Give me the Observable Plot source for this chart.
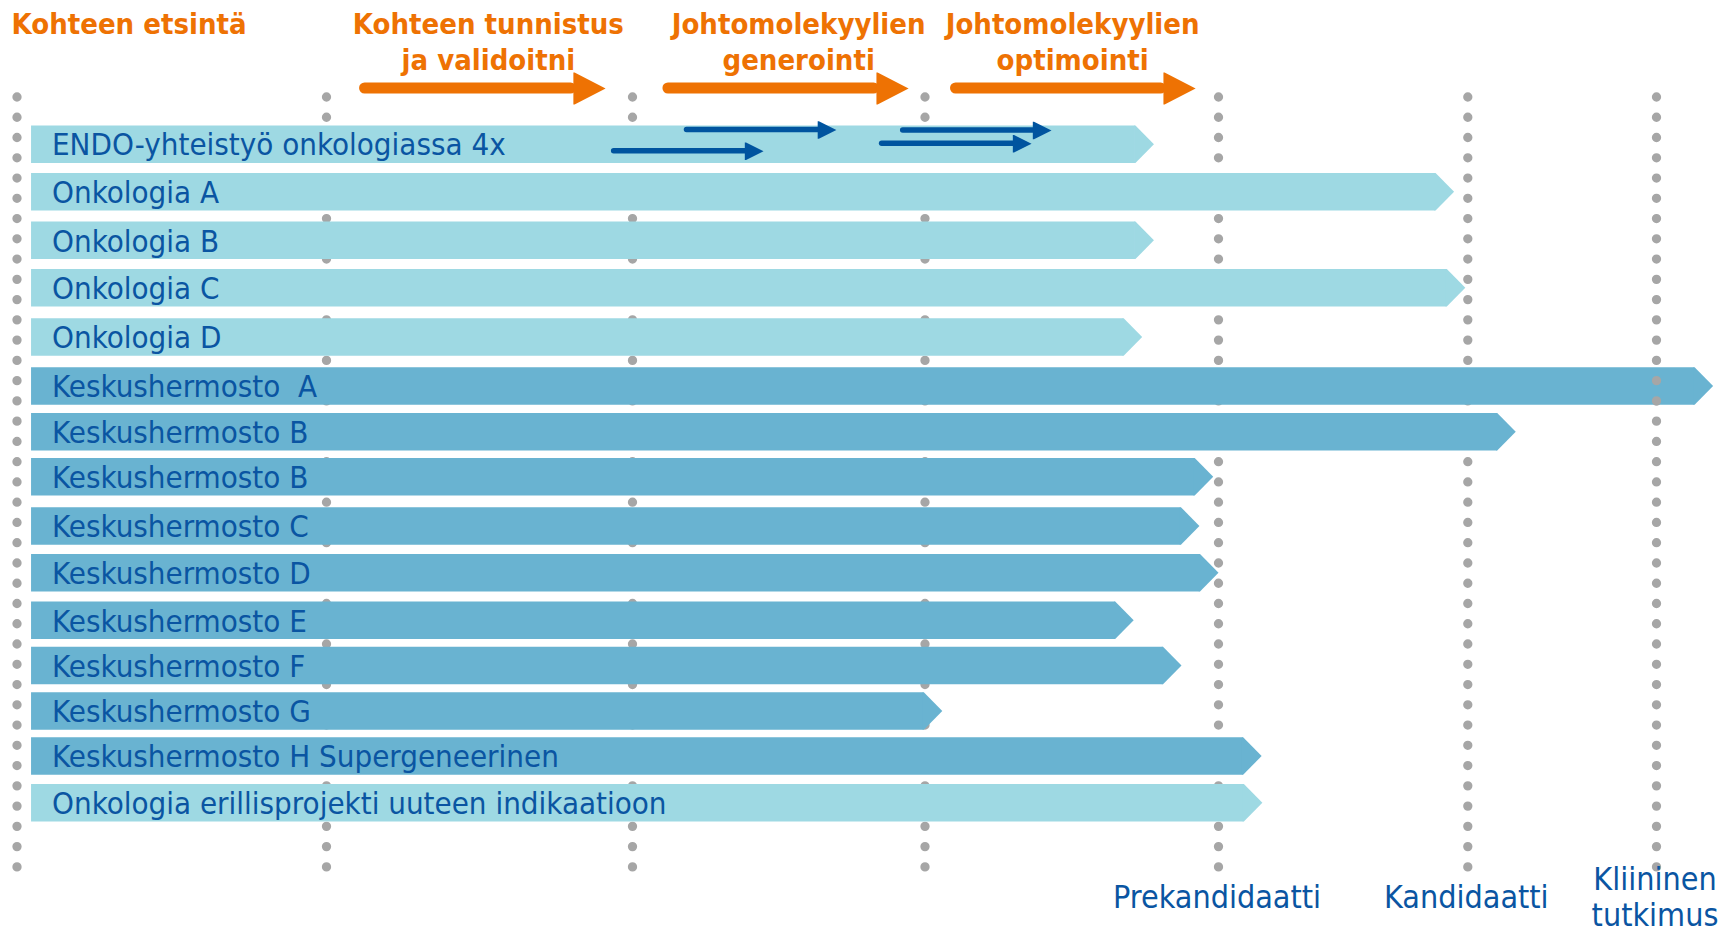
<!DOCTYPE html>
<html>
<head>
<meta charset="utf-8">
<script src="https://cdn.jsdelivr.net/npm/d3@7"></script>
<script src="https://cdn.jsdelivr.net/npm/@observablehq/plot@0.6"></script>
<style>
  html, body { margin: 0; padding: 0; background: #ffffff; overflow: hidden; }
  #chart svg text { white-space: pre; font-stretch: condensed; }
</style>
</head>
<body>
<div id="chart"></div>
<script>
// ---------------- data ----------------
const projects = [
  "ENDO-yhteistyö onkologiassa 4x",
  "Onkologia A",
  "Onkologia B",
  "Onkologia C",
  "Onkologia D",
  "Keskushermosto  A",
  "Keskushermosto B",
  "Keskushermosto B",
  "Keskushermosto C",
  "Keskushermosto D",
  "Keskushermosto E",
  "Keskushermosto F",
  "Keskushermosto G",
  "Keskushermosto H Supergeneerinen",
  "Onkologia erillisprojekti uuteen indikaatioon"
];
const areas = [
  "Onkologia", "Onkologia", "Onkologia", "Onkologia", "Onkologia",
  "Keskushermosto", "Keskushermosto", "Keskushermosto", "Keskushermosto", "Keskushermosto",
  "Keskushermosto", "Keskushermosto", "Keskushermosto", "Keskushermosto", "Onkologia"
];
// progress reached by each project, in stage units (0 = start, 4 = Prekandidaatti, 5 = Kandidaatti, 6 = Kliininen tutkimus)
const reach = [3.78, 4.945, 3.78, 4.99, 3.74, 6.30, 5.254, 3.982, 3.935, 4.0, 3.711, 3.874, 3.059, 4.173, 4.176];
const startStage = 0.047;

const stageBoundaries = [0, 1, 2, 3, 4, 5, 6];

const phases = [
  "Kohteen etsintä",
  "Kohteen tunnistus\nja validoitni",
  "Johtomolekyylien\ngenerointi",
  "Johtomolekyylien\noptimointi"
];
const phaseArrowFrom = [1.108, 2.104, 3.087];
const phaseArrowTo = [1.912, 2.944, 3.922];

const milestones = ["Prekandidaatti", "Kandidaatti", "Kliininen\ntutkimus"];
const milestoneStage = [4, 5, 6];

// small arrows inside the ENDO bar (four parallel collaborations)
const endoArrowFrom = [2.177, 1.931, 2.916, 2.844];
const endoArrowTo = [2.697, 2.448, 3.431, 3.363];

// ---------------- layout / style ----------------
const W = 1735, H = 933;
const TEXT_BLUE = "#0a55a2";
const ORANGE = "#ee7203";
const GREY = "#a6a6a6";
const ARROW_BLUE = "#00549f";
const FONT = "'DejaVu Sans Condensed','DejaVu Sans',sans-serif";

const rows = projects.map((label, i) => ({id: i, label, area: areas[i], from: startStage, to: reach[i]}));

// row centres on the slide (the rows are not perfectly evenly spaced)
const rowRange = [143.7, 191.3, 239.8, 287.2, 336.5, 385.5, 431.2, 476.2, 525.5, 572.2, 619.8, 665, 710.5, 755.5, 802.2];
const barThick = 37.6;

function tip(len, half) {
  return {
    draw(ctx) {
      ctx.moveTo(-len - 1.2, -half);
      ctx.lineTo(-len, -half);
      ctx.lineTo(0, 0);
      ctx.lineTo(-len, half);
      ctx.lineTo(-len - 1.2, half);
      ctx.closePath();
    }
  };
}

// arrow with a rounded shaft and a filled head, at a fixed pixel height
function arrowMarks(from, to, y, thick, headLen, headHalf, color) {
  const d = [{from, to}];
  return [
    Plot.barX(d, {
      x1: "from", x2: "to",
      insetTop: y - thick / 2, insetBottom: H - y - thick / 2,
      insetRight: headLen - 2, rx: thick / 2, fill: color
    }),
    Plot.dot(d, {
      x: "to", frameAnchor: "top", dy: y,
      symbol: tip(headLen, headHalf), fill: color, stroke: "none"
    })
  ];
}

const dotPitch = 20.26;
const dotTop = 97;

const headerX = [0, 1.529, 2.568, 3.503];
const orangeY = 88;
const endoLaneY = [129.5, 150.7, 130, 143.3];

const chart = Plot.plot({
  width: W,
  height: H,
  margin: 0,
  style: {background: "#ffffff"},
  x: {
    type: "linear",
    domain: stageBoundaries,
    range: [16.5, 326, 632, 924.5, 1218, 1467.3, 1656],
    axis: null
  },
  y: {
    type: "linear",
    domain: rows.map(d => d.id),
    range: rowRange,
    axis: null
  },
  color: {
    domain: ["Onkologia", "Keskushermosto"],
    range: ["#9ed9e3", "#69b3d1"]
  },
  marks: [
    // dotted stage boundaries (behind bars)
    Plot.ruleX(stageBoundaries, {
      x: d => d,
      stroke: GREY, strokeWidth: 9.3, strokeLinecap: "round",
      strokeDasharray: `0 ${dotPitch}`,
      insetTop: dotTop, insetBottom: H - 868
    }),
    // project bars with arrow tips
    Plot.ruleY(rows, {y: "id", x1: "from", x2: "to", stroke: "area", strokeWidth: barThick, insetRight: 18.5}),
    Plot.dot(rows, {x: "to", y: "id", fill: "area", stroke: "none", symbol: tip(18.5, barThick / 2)}),
    // the last boundary is drawn over the longest bar
    Plot.ruleX([6], {
      x: d => d,
      stroke: GREY, strokeWidth: 9.3, strokeLinecap: "round",
      strokeDasharray: `0 ${dotPitch}`,
      insetTop: dotTop + 14 * dotPitch, insetBottom: H - (dotTop + 15 * dotPitch + 1)
    }),
    // project labels
    Plot.text(rows, {
      y: "id", text: "label", frameAnchor: "left", dx: 51.5, dy: 1.3,
      textAnchor: "start", fill: TEXT_BLUE, fontSize: 31, fontFamily: FONT
    }),
    // small arrows in the ENDO bar
    ...endoArrowFrom.flatMap((f, i) => arrowMarks(f, endoArrowTo[i], endoLaneY[i], 5.5, 17.5, 8.8, ARROW_BLUE)),
    // orange phase arrows
    ...phaseArrowFrom.flatMap((f, i) => arrowMarks(f, phaseArrowTo[i], orangeY, 11, 31, 16, ORANGE)),
    // phase headers
    Plot.text([{name: phases[0], x: headerX[0]}], {
      x: "x", text: "name", frameAnchor: "top", dy: 7.5, dx: -5.5,
      textAnchor: "start", lineAnchor: "top", lineHeight: 36.5 / 29,
      fill: ORANGE, fontSize: 29, fontWeight: "bold", fontFamily: FONT
    }),
    Plot.text(phases.slice(1).map((name, i) => ({name, x: headerX[i + 1]})), {
      x: "x", text: "name", frameAnchor: "top", dy: 7.5,
      textAnchor: "middle", lineAnchor: "top", lineHeight: 36.5 / 29,
      fill: ORANGE, fontSize: 29, fontWeight: "bold", fontFamily: FONT
    }),
    // milestone labels
    Plot.text(milestones.map((name, i) => ({name, x: milestoneStage[i]})), {
      x: "x", text: "name", frameAnchor: "top", dy: 896, dx: -1.5,
      textAnchor: "middle", lineAnchor: "middle", lineHeight: 36.5 / 32,
      fill: TEXT_BLUE, fontSize: 32, fontFamily: FONT
    })
  ]
});

document.getElementById("chart").appendChild(chart);
</script>
</body>
</html>
